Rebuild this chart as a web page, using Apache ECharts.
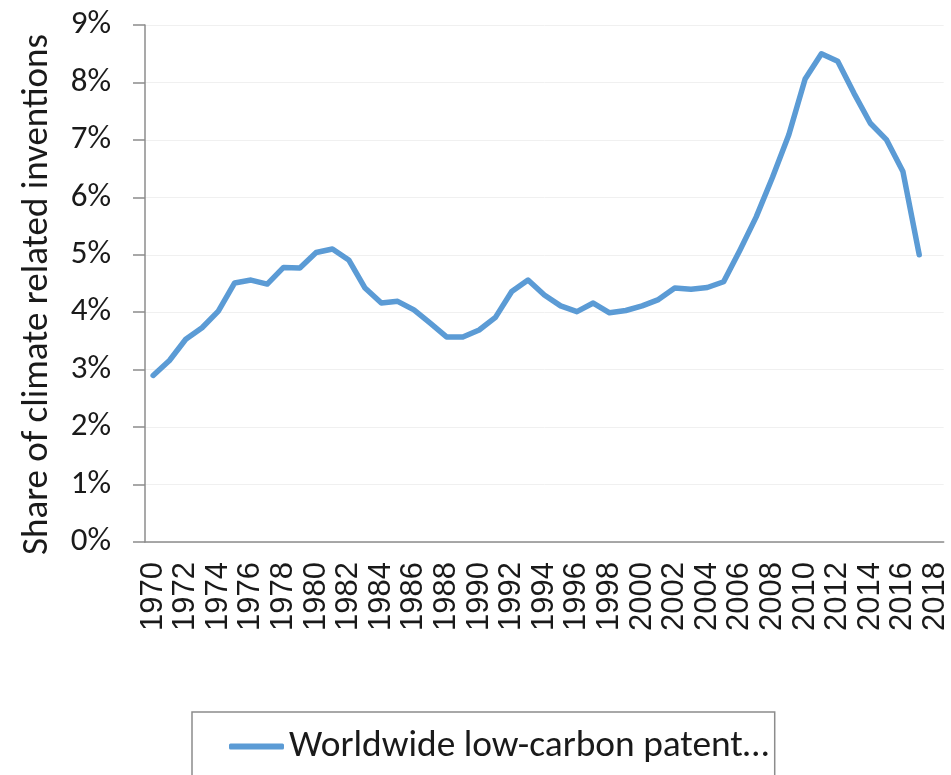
<!DOCTYPE html>
<html>
<head>
<meta charset="utf-8">
<script src="https://cdn.jsdelivr.net/npm/echarts@6/dist/echarts.min.js"></script>
<style>
  html, body { margin: 0; padding: 0; background: #fff; }
  #chart { width: 951px; height: 775px; }
</style>
</head>
<body>
<div id="chart"></div>
<script>
// Years on the category axis (last slot has no data)
const years = [];
for (let y = 1970; y <= 2018; y++) years.push(String(y));

// Share of climate related inventions, percent, 1970–2017
const shareValues = [
  2.90, 3.16, 3.53, 3.73, 4.02, 4.51, 4.56, 4.49, 4.78, 4.77,
  5.04, 5.10, 4.91, 4.42, 4.16, 4.19, 4.04, 3.81, 3.57, 3.57,
  3.69, 3.91, 4.36, 4.56, 4.30, 4.11, 4.01, 4.16, 3.99, 4.03,
  4.11, 4.22, 4.42, 4.40, 4.43, 4.53, 5.08, 5.66, 6.35, 7.09,
  8.06, 8.50, 8.37, 7.81, 7.29, 7.00, 6.45, 5.00
];

const seriesName = 'Worldwide low-carbon patent\u2026';
const yAxisName = 'Share of climate related inventions';

const textFont = 'Carlito, Calibri, Lato, sans-serif';
const yearFont = '"Liberation Sans", Arial, sans-serif';
const chart = echarts.init(document.getElementById('chart'), null, { renderer: 'canvas' });

chart.setOption({
  animation: false,
  backgroundColor: '#ffffff',
  grid: { left: 145, right: 6, top: 25, bottom: 233, containLabel: false },
  legend: {
    data: [{ name: seriesName, icon: 'roundRect' }],
    left: 192,
    top: 712,
    padding: [16, 6, 40, 37],
    borderColor: '#8c8c8c',
    borderWidth: 1.5,
    itemWidth: 55,
    itemHeight: 6,
    itemGap: 4,
    textStyle: { fontFamily: textFont, fontSize: 37.4, color: '#1a1a1a' }
  },
  xAxis: {
    type: 'category',
    data: years,
    boundaryGap: true,
    axisLine: { lineStyle: { color: '#8c8c8c', width: 1.5 } },
    axisTick: { show: false },
    axisLabel: {
      interval: 1,
      rotate: 90,
      margin: 20,
      fontFamily: yearFont,
      fontSize: 31,
      color: '#1a1a1a'
    }
  },
  yAxis: {
    type: 'value',
    min: 0,
    max: 9,
    interval: 1,
    name: yAxisName,
    nameLocation: 'middle',
    nameGap: 89,
    nameRotate: 90,
    nameTextStyle: { fontFamily: textFont, fontSize: 37, color: '#1a1a1a', padding: [0, 22, 0, 0] },
    axisLine: { show: true, lineStyle: { color: '#8c8c8c', width: 1.5 } },
    axisTick: { show: true, length: 12, lineStyle: { color: '#8c8c8c', width: 1.5 } },
    axisLabel: {
      formatter: '{value}%',
      margin: 34,
      fontFamily: textFont,
      fontSize: 33,
      color: '#1a1a1a'
    },
    splitLine: { lineStyle: { color: '#f0f0f0', width: 1 } }
  },
  series: [{
    name: seriesName,
    type: 'line',
    data: shareValues,
    showSymbol: false,
    symbol: 'none',
    lineStyle: { color: '#5b9bd5', width: 5.5, cap: 'round', join: 'round' },
    itemStyle: { color: '#5b9bd5' }
  }]
});
</script>
</body>
</html>
